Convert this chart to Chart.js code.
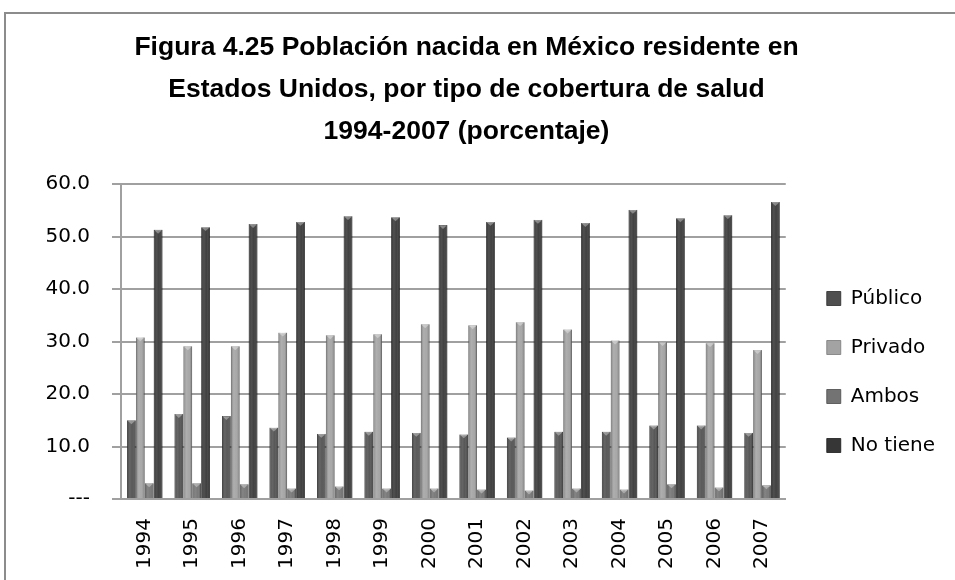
<!DOCTYPE html>
<html>
<head>
<meta charset="utf-8">
<script src="https://cdn.jsdelivr.net/npm/chart.js@4.4.0/dist/chart.umd.min.js"></script>
<style>
  html, body { margin: 0; padding: 0; background: #fff; }
  #wrap { position: absolute; left: 0; top: 0; width: 955px; height: 580px; }
  #frame { position: absolute; left: 4px; top: 12px; width: 960px; height: 600px; border-left: 2px solid #8c8c8c; border-top: 2px solid #8c8c8c; pointer-events: none; }
  canvas { position: absolute; left: 0; top: 0; }
</style>
</head>
<body>
<div id="wrap">
  <canvas id="c" width="955" height="580"></canvas>
  <div id="frame"></div>
</div>
<script>
const years = ['1994','1995','1996','1997','1998','1999','2000','2001','2002','2003','2004','2005','2006','2007'];
const publico  = [15.0, 16.2, 15.8, 13.6, 12.4, 12.8, 12.6, 12.3, 11.7, 12.8, 12.8, 14.0, 14.0, 12.6];
const privado  = [30.8, 29.1, 29.1, 31.7, 31.2, 31.4, 33.3, 33.1, 33.7, 32.3, 30.2, 29.9, 29.7, 28.4];
const ambos    = [3.0, 3.0, 2.8, 2.0, 2.4, 2.0, 2.0, 1.8, 1.6, 2.0, 1.8, 2.8, 2.2, 2.6];
const noTiene  = [51.3, 51.8, 52.4, 52.8, 53.9, 53.7, 52.2, 52.8, 53.2, 52.6, 55.1, 53.5, 54.1, 56.6];
const seriesNames = ['Público', 'Privado', 'Ambos', 'No tiene'];
const yTicks = [0, 10, 20, 30, 40, 50, 60];
const titleLines = ['Figura 4.25 Población nacida en México residente en', 'Estados Unidos, por tipo de cobertura de salud', '1994-2007 (porcentaje)'];

const colors = ['#4f4f4f', '#a3a3a3', '#737373', '#363636'];

const shadePlugin = {
  id: 'shade',
  afterLayout(chart) {
    const lg = chart.legend;
    if (lg) {
      lg.left += 12; lg.right += 12;
      lg.top += 76; lg.bottom += 76;
    }
  },
  afterDatasetsDraw(chart) {
    const ctx = chart.ctx;
    ctx.save();
    chart.data.datasets.forEach((ds, di) => {
      const meta = chart.getDatasetMeta(di);
      meta.data.forEach(el => {
        const p = el.getProps(['x', 'y', 'base', 'width'], true);
        const l = p.x - p.width / 2, r = p.x + p.width / 2;
        const g = ctx.createLinearGradient(l, 0, r, 0);
        g.addColorStop(0, 'rgba(0,0,0,0.30)');
        g.addColorStop(0.35, 'rgba(255,255,255,0.12)');
        g.addColorStop(0.6, 'rgba(255,255,255,0.05)');
        g.addColorStop(1, 'rgba(0,0,0,0.40)');
        ctx.fillStyle = g;
        ctx.fillRect(l, p.y, p.width, p.base - p.y);
        const h = Math.min(p.width * 0.45, p.base - p.y);
        ctx.fillStyle = 'rgba(255,255,255,0.35)';
        ctx.beginPath();
        ctx.moveTo(l, p.y);
        ctx.lineTo(r, p.y);
        ctx.lineTo(p.x, p.y + h);
        ctx.closePath();
        ctx.fill();
      });
    });
    ctx.restore();
  }
};

new Chart(document.getElementById('c'), {
  type: 'bar',
  data: {
    labels: years,
    datasets: [
      { label: seriesNames[0], data: publico, backgroundColor: colors[0], borderColor: '#2a2a2a', borderWidth: 0.8 },
      { label: seriesNames[1], data: privado, backgroundColor: colors[1], borderColor: '#7a7a7a', borderWidth: 0.8 },
      { label: seriesNames[2], data: ambos, backgroundColor: colors[2], borderColor: '#4a4a4a', borderWidth: 0.8 },
      { label: seriesNames[3], data: noTiene, backgroundColor: colors[3], borderColor: '#1a1a1a', borderWidth: 0.8 }
    ]
  },
  options: {
    responsive: false,
    animation: false,
    devicePixelRatio: 1,
    categoryPercentage: 0.75,
    barPercentage: 0.97,
    layout: { padding: { top: 12, left: 0, right: 22, bottom: 0 } },
    plugins: {
      title: {
        display: true,
        text: titleLines,
        color: '#000',
        font: { family: "'Liberation Sans', sans-serif", size: 26.5, weight: 'bold', lineHeight: 1.6 },
        padding: { top: 14, bottom: 31 }
      },
      legend: {
        position: 'right',
        labels: {
          color: '#000',
          font: { family: "'DejaVu Sans', sans-serif", size: 20 },
          boxWidth: 14,
          boxHeight: 14,
          padding: 29
        }
      },
      tooltip: { enabled: false }
    },
    scales: {
      x: {
        grid: { display: false, drawTicks: false },
        border: { display: true, color: '#a0a0a0', width: 2 },
        ticks: {
          color: '#000',
          font: { family: "'DejaVu Sans', sans-serif", size: 20 },
          maxRotation: 90, minRotation: 90,
          padding: 19
        },
        afterFit(scale) { scale.height = 81; }
      },
      y: {
        min: 0, max: 60,
        afterBuildTicks(scale) { scale.ticks = yTicks.map(v => ({ value: v })); },
        grid: { color: '#a0a0a0', lineWidth: 2, tickLength: 9 },
        border: { display: true, color: '#a0a0a0', width: 2 },
        ticks: {
          color: '#000',
          font: { family: "'DejaVu Sans', sans-serif", size: 20 },
          padding: 22,
          callback: v => v === 0 ? '---' : Number(v).toFixed(1)
        },
        afterFit(scale) { scale.width = 121; }
      }
    }
  },
  plugins: [shadePlugin]
});
</script>
</body>
</html>
